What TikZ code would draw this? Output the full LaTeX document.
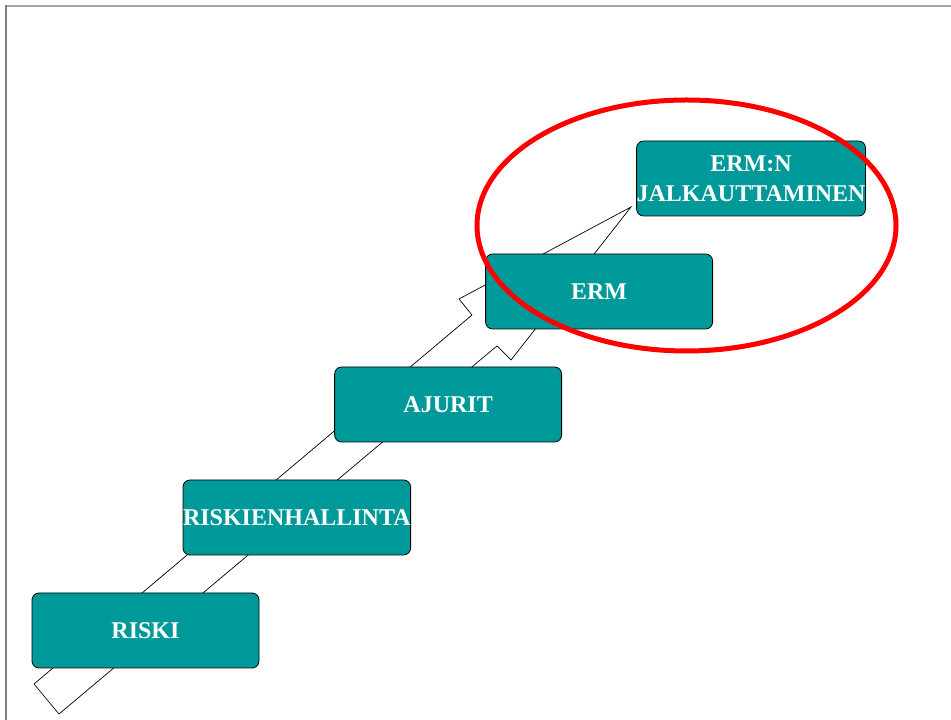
\documentclass[tikz,border=0pt]{standalone}
\usepackage{fontspec}
\setmainfont{Liberation Serif}
\usepackage{tikz}
\usetikzlibrary{positioning}
\definecolor{tealbox}{HTML}{009999}

\begin{document}
\begin{tikzpicture}[x=1pt, y=1pt, stage/.style={rectangle, rounded corners=7pt, text centered, align=center, fill=tealbox, draw=black, line width=0.8pt, text=white, font=\fontsize{24}{30}\selectfont\bfseries, minimum height=75pt, minimum width=227pt, inner sep=0pt, outer sep=0pt}]
	\useasboundingbox (0,0) rectangle (951,720);
	\draw [gray!70, line width=1.5pt] (6,714) -- (951,714);
	\draw [gray, line width=1.5pt] (6,0) -- (6,714.75);
	% the big arrow behind the steps
	\draw [black, line width=0.7pt, fill=white] (34,36) -- (472,405) -- (459,421) -- (631,513) -- (511,360) -- (497,374) -- (473,354) -- (59,6) -- cycle;
	\node[stage] (riski) at (145.5,89.5) {RISKI};
	\node[stage] (riskienhallinta) [above right=38pt and -76pt of riski] {RISKIENHALLINTA};
	\node[stage] (ajurit) [above right=38pt and -76pt of riskienhallinta] {AJURIT};
	\node[stage] (erm) [above right=38pt and -76pt of ajurit] {ERM};
	\node[stage] (jalkautus) [above right=38pt and -76pt of erm] {ERM:N\\JALKAUTTAMINEN};
	\draw [red, line width=5pt] (686.5,494.5) ellipse [x radius=209.5, y radius=125.5];
\end{tikzpicture}
\end{document}
